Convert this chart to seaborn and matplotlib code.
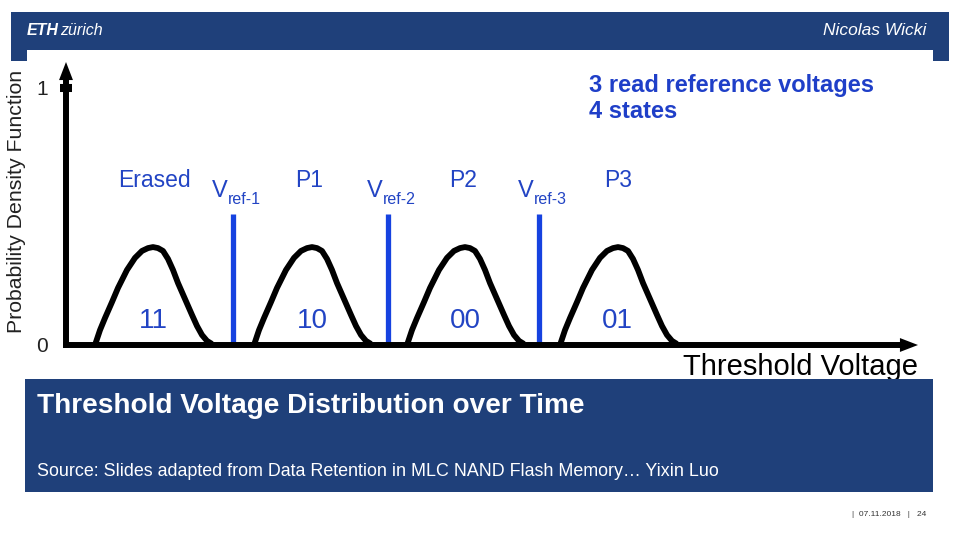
import numpy as np
import pandas as pd
import seaborn as sns
import matplotlib.pyplot as plt
from matplotlib.patches import Rectangle

# threshold-voltage distributions (x: voltage, y: pdf)
erased_x = [0.29, 0.34, 0.39, 0.46, 0.52, 0.61, 0.69, 0.76, 0.82, 0.87, 0.92,
            0.97, 1.02, 1.07, 1.12, 1.19, 1.26, 1.31, 1.36, 1.41, 1.46]
erased_y = [0.000, 0.058, 0.105, 0.167, 0.222, 0.292, 0.339, 0.366, 0.377, 0.381, 0.377,
            0.366, 0.335, 0.292, 0.241, 0.179, 0.117, 0.074, 0.039, 0.016, 0.004]
p1_x = [1.88, 1.93, 1.98, 2.05, 2.11, 2.20, 2.28, 2.35, 2.41, 2.46, 2.51,
        2.56, 2.61, 2.66, 2.71, 2.78, 2.85, 2.90, 2.95, 3.00, 3.05]
p1_y = [0.000, 0.058, 0.105, 0.167, 0.222, 0.292, 0.339, 0.366, 0.377, 0.381, 0.377,
        0.366, 0.335, 0.292, 0.241, 0.179, 0.117, 0.074, 0.039, 0.016, 0.004]
p2_x = [3.41, 3.46, 3.51, 3.58, 3.64, 3.73, 3.81, 3.88, 3.94, 3.99, 4.04,
        4.09, 4.14, 4.19, 4.24, 4.31, 4.38, 4.43, 4.48, 4.53, 4.58]
p2_y = [0.000, 0.058, 0.105, 0.167, 0.222, 0.292, 0.339, 0.366, 0.377, 0.381, 0.377,
        0.366, 0.335, 0.292, 0.241, 0.179, 0.117, 0.074, 0.039, 0.016, 0.004]
p3_x = [4.94, 4.99, 5.04, 5.11, 5.17, 5.26, 5.34, 5.41, 5.47, 5.52, 5.57,
        5.62, 5.67, 5.72, 5.77, 5.84, 5.91, 5.96, 6.01, 6.06, 6.11]
p3_y = [0.000, 0.058, 0.105, 0.167, 0.222, 0.292, 0.339, 0.366, 0.377, 0.381, 0.377,
        0.366, 0.335, 0.292, 0.241, 0.179, 0.117, 0.074, 0.039, 0.016, 0.004]

states = ['Erased', 'P1', 'P2', 'P3']
state_centers = [0.88, 2.43, 3.97, 5.52]
bits = ['11', '10', '00', '01']
bit_centers = [0.87, 2.46, 3.99, 5.51]

vref_names = ['ref-1', 'ref-2', 'ref-3']
vref_x = [1.67, 3.22, 4.73]
vref_label_x = [1.46, 3.01, 4.52]
vref_top = 0.51

yticks = [0, 1]
ytick_labels = ['0', '1']

ETH_BLUE = '#1f407a'
TXT_BLUE = '#2244c4'
LINE_BLUE = '#1642e0'

curves = pd.concat([
    pd.DataFrame({'v': erased_x, 'pdf': erased_y, 'state': 'Erased'}),
    pd.DataFrame({'v': p1_x, 'pdf': p1_y, 'state': 'P1'}),
    pd.DataFrame({'v': p2_x, 'pdf': p2_y, 'state': 'P2'}),
    pd.DataFrame({'v': p3_x, 'pdf': p3_y, 'state': 'P3'}),
])

sns.set_theme(style='white')
plt.rcParams['font.family'] = ['Liberation Sans', 'DejaVu Sans']

W, H = 960, 540
fig = plt.figure(figsize=(9.6, 5.4), dpi=100)


def fx(px):
    return px / W


def fy(py):
    return 1 - py / H


# header bar with the two small tabs
for x0, y0, x1, y1 in [(11, 12, 949, 50), (11, 50, 27, 61), (933, 50, 949, 61)]:
    fig.patches.append(Rectangle((fx(x0), fy(y1)), fx(x1) - fx(x0), fy(y0) - fy(y1),
                                 transform=fig.transFigure, color=ETH_BLUE, lw=0))
fig.text(fx(27), fy(31), 'ETH', color='white', fontsize=11.5, fontweight='bold',
         fontstyle='italic', va='center', ha='left')
fig.text(fx(60), fy(31), 'zürich', color='white', fontsize=11.5,
         fontstyle='italic', va='center', ha='left')
fig.text(fx(926), fy(31), 'Nicolas Wicki', color='white', fontsize=12.5,
         fontstyle='italic', va='center', ha='right')

# caption box
fig.patches.append(Rectangle((fx(25), fy(492)), fx(933) - fx(25), fy(379) - fy(492),
                             transform=fig.transFigure, color=ETH_BLUE, lw=0))
fig.text(fx(37), fy(406), 'Threshold Voltage Distribution over Time', color='white',
         fontsize=20.2, fontweight='bold', va='center', ha='left')
fig.text(fx(37), fy(472), 'Source: Slides adapted from Data Retention in MLC NAND Flash Memory… Yixin Luo',
         color='white', fontsize=12.9, va='center', ha='left')
fig.text(fx(852), fy(515), '|  07.11.2018   |   24', color='#333333', fontsize=6,
         va='center', ha='left')

fig.text(fx(17), fy(201), 'Probability Density Function', rotation=90, fontsize=15.3,
         color='#222222', va='center', ha='center')

# chart area
ax = fig.add_axes([fx(66), fy(345), fx(918) - fx(66), fy(62) - fy(345)])
ax.set_xlim(0, 8.52)
ax.set_ylim(0, 1.101)
ax.patch.set_alpha(0)
for s in ax.spines.values():
    s.set_visible(False)

sns.lineplot(data=curves, x='v', y='pdf', hue='state', palette=['black'] * 4,
             sort=False, legend=False, lw=4.2, ax=ax, clip_on=False)
for ln in ax.lines:
    ln.set_solid_capstyle('butt')
    ln.set_solid_joinstyle('round')

ax.vlines(vref_x, 0, vref_top, color=LINE_BLUE, lw=3.8, zorder=3)

arrow = dict(width=4.3, headwidth=10, headlength=13, facecolor='black',
             edgecolor='black', lw=0, shrink=0)
ax.annotate('', xy=(8.52, 0), xytext=(-0.03, 0), arrowprops=arrow, annotation_clip=False)
ax.annotate('', xy=(0, 1.101), xytext=(0, -0.01), arrowprops=arrow, annotation_clip=False)

ax.set_xticks([])
ax.set_yticks(yticks)
ax.set_yticklabels(ytick_labels)
ax.tick_params(axis='y', which='major', length=0, labelsize=15,
               labelcolor='#222222', pad=13, left=True)
# the "1" mark on the axis
ax.yaxis.remove_overlapping_locs = False
ax.set_yticks([1], minor=True)
ax.tick_params(axis='y', which='minor', direction='inout', length=8.6, width=5.8,
               color='black', left=True)
ax.set_xlabel('Threshold Voltage', loc='right', fontsize=21, color='black', labelpad=6)
ax.set_ylabel('')

for name, cx in zip(states, state_centers):
    ax.text(cx, 0.64, name, color=TXT_BLUE, fontsize=16.5, ha='center', va='center')
for b, cx in zip(bits, bit_centers):
    ax.text(cx, 0.093, b, color=TXT_BLUE, fontsize=20, ha='center', va='center')
for name, lx in zip(vref_names, vref_label_x):
    v = ax.text(lx, 0.60, 'V', color=TXT_BLUE, fontsize=17, ha='left', va='center')
    ax.annotate(name, xy=(1, 0.12), xycoords=v, color=TXT_BLUE, fontsize=11.5,
                ha='left', va='center')

ax.text(5.23, 0.959, '3 read reference voltages\n4 states', color='#1f3fc8',
        fontsize=17, fontweight='bold', ha='left', va='center', linespacing=1.2)

fig.savefig('out.png', dpi=100)
